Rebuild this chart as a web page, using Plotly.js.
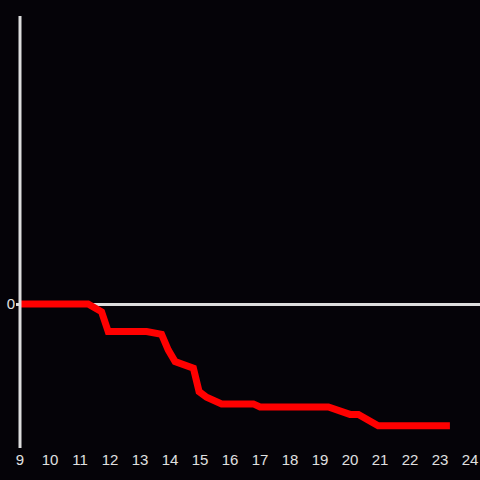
<!DOCTYPE html>
<html>
<head>
<meta charset="utf-8">
<script src="https://cdn.plot.ly/plotly-3.0.1.min.js"></script>
<style>html,body{margin:0;padding:0;background:#050308;}#chart{width:480px;height:480px;}</style>
</head>
<body>
<div id="chart"></div>
<script>
const xValues = [9, 11.27, 11.72, 11.94, 13.22, 13.72, 13.94, 14.17, 14.78, 14.97, 15.22, 15.72, 16.78, 17.0, 19.28, 19.56, 20.0, 20.28, 20.72, 20.94, 23.33];
const yValues = [0, 0, -0.26, -0.92, -0.92, -1.01, -1.53, -1.92, -2.14, -2.92, -3.11, -3.33, -3.33, -3.43, -3.43, -3.53, -3.68, -3.68, -3.96, -4.06, -4.06];
const xTicks = [9, 10, 11, 12, 13, 14, 15, 16, 17, 18, 19, 20, 21, 22, 23, 24];
const xStart = xTicks[0];

Plotly.newPlot('chart', [{
  x: xValues, y: yValues, type: 'scatter', mode: 'lines',
  line: {color: '#ff0000', width: 7},
  hoverinfo: 'skip'
}], {
  width: 480, height: 480,
  paper_bgcolor: '#050308', plot_bgcolor: '#050308',
  margin: {l: 16, r: 0, t: 16, b: 32},
  showlegend: false,
  font: {family: 'Liberation Sans', size: 15, color: '#e0e0e0'},
  xaxis: {
    range: [8.8667, 24.3333], tickvals: xTicks, ticktext: xTicks.map(String),
    showgrid: false, zeroline: false, showline: false, ticks: '',
    ticklabelstandoff: 1,
    tickfont: {family: 'Liberation Sans', color: '#e0e0e0', size: 15}
  },
  yaxis: {
    range: [-4.8, 9.6], tickvals: [0], ticktext: ['0'],
    showgrid: false, zeroline: true, zerolinecolor: '#dddddd', zerolinewidth: 3,
    showline: false, ticks: '', ticklabelstandoff: 0,
    tickfont: {family: 'Liberation Sans', color: '#e0e0e0', size: 15}
  },
  shapes: [{
    type: 'line', xref: 'x', yref: 'paper', x0: xStart, x1: xStart, y0: 0, y1: 1,
    line: {color: '#dddddd', width: 3}, layer: 'above'
  }]
}, {displayModeBar: false, staticPlot: true});
</script>
</body>
</html>
